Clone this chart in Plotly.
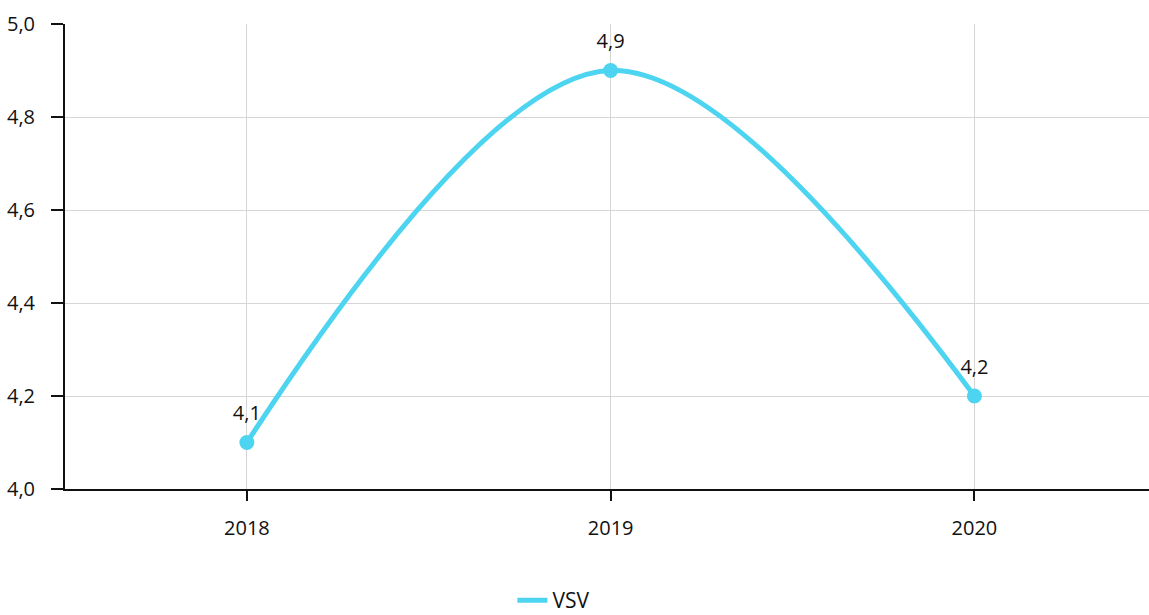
import plotly.graph_objects as go

years = ["2018", "2019", "2020"]
vsv = [4.1, 4.9, 4.2]
labels = ["4,1", "4,9", "4,2"]
series_name = "VSV"

color = "#4dd4f0"
font_family = "Open Sans"

fig = go.Figure()
# line (shown in legend, line-only symbol)
fig.add_trace(go.Scatter(
    x=years, y=vsv, name=series_name,
    mode="lines",
    line=dict(color=color, width=5, shape="spline", smoothing=1.0),
    hoverinfo="skip",
))
# markers
fig.add_trace(go.Scatter(
    x=years, y=vsv, name=series_name, showlegend=False,
    mode="markers",
    marker=dict(color=color, size=15),
))
# value labels (invisible larger marker sets the text offset)
fig.add_trace(go.Scatter(
    x=years, y=vsv, name=series_name, showlegend=False,
    mode="markers+text",
    marker=dict(color=color, size=26, opacity=0),
    text=labels, textposition="top center",
    textfont=dict(size=20, color="#111111", family=font_family),
    hoverinfo="skip",
))

fig.update_layout(
    width=1149, height=615,
    margin=dict(l=65, r=0, t=24, b=126, autoexpand=False),
    plot_bgcolor="white", paper_bgcolor="white",
    font=dict(family=font_family, size=20, color="#111111"),
    separators=",.",
    showlegend=True,
    legend=dict(orientation="h", x=0.451, xanchor="center", y=-0.24, yanchor="middle",
                font=dict(size=21)),
    xaxis=dict(
        type="category", range=[-0.5, 2.48],
        showgrid=True, gridcolor="#d6d6d6", gridwidth=1,
        showline=True, linecolor="#111111", linewidth=2,
        ticks="outside", ticklen=10, tickcolor="#111111", tickwidth=1.5,
        tickfont=dict(size=20), ticklabelstandoff=10,
        zeroline=False,
    ),
    yaxis=dict(
        range=[4.0, 5.0], dtick=0.2, tickformat=".1f",
        showgrid=True, gridcolor="#d6d6d6", gridwidth=1,
        showline=True, linecolor="#111111", linewidth=2,
        ticks="outside", ticklen=12, tickcolor="#111111", tickwidth=1.5,
        tickfont=dict(size=20), ticklabelstandoff=12,
        zeroline=False,
    ),
)

fig.write_html("out.html")
